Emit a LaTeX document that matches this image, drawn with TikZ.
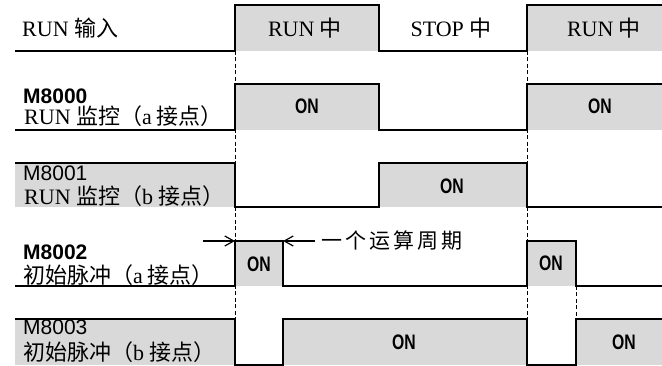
\documentclass[tikz,border=0pt]{standalone}
\usepackage{fontspec}
\setmainfont{Liberation Serif}
\newfontfamily\cjk{Noto Sans CJK SC}
\newfontfamily\helv{Liberation Sans}
\newfontfamily\onf[FakeStretch=0.75]{Liberation Sans}
\usetikzlibrary{arrows.meta}
\tikzset{
  wave/.style={line width=1.4pt, line join=miter},
  hi/.style={fill=black!15, draw=none},
  guide/.style={line width=0.9pt, dash pattern=on 4pt off 2.5pt},
  lbl/.style={anchor=west, inner sep=0pt, text height=16pt, text depth=4pt, font=\fontsize{22}{24}\selectfont},
  code/.style={anchor=west, inner sep=0pt, text height=15pt, text depth=0pt, font=\helv\fontsize{21}{23}\selectfont},
  codeb/.style={code, font=\helv\bfseries\fontsize{21}{23}\selectfont},
  ontext/.style={inner sep=0pt, font=\onf\bfseries\fontsize{21}{23}\selectfont},
  state/.style={inner sep=0pt, font=\fontsize{22}{24}\selectfont},
  period/.style={-{Straight Barb[length=9pt,width=10pt,line width=1.2pt]}, line width=1.2pt}
}
\begin{document}
\begin{tikzpicture}[x=1pt,y=-1pt]
\useasboundingbox (0,0) rectangle (662,366);
% shaded high levels
\fill[hi] (235,5) rectangle (379,51);
\fill[hi] (527,5) rectangle (662,51);
\fill[hi] (235,84) rectangle (379,130);
\fill[hi] (527,84) rectangle (662,130);
\fill[hi] (15,163) rectangle (235,207);
\fill[hi] (379,163) rectangle (527,207);
\fill[hi] (235,241) rectangle (283,286);
\fill[hi] (527,241) rectangle (576,286);
\fill[hi] (15,319) rectangle (235,365);
\fill[hi] (283,319) rectangle (527,365);
\fill[hi] (576,319) rectangle (662,365);
% dashed guides
\draw[guide] (235,51) -- (235,319);
\draw[guide] (527,51) -- (527,319);
\draw[guide] (576,286) -- (576,319);
% waveforms
\draw[wave] (15,51) -- (235,51) -- (235,5) -- (379,5) -- (379,51) -- (527,51) -- (527,5) -- (662,5);
\draw[wave] (15,130) -- (235,130) -- (235,84) -- (379,84) -- (379,130) -- (527,130) -- (527,84) -- (662,84);
\draw[wave] (15,163) -- (235,163) -- (235,207) -- (379,207) -- (379,163) -- (527,163) -- (527,207) -- (662,207);
\draw[wave] (15,286) -- (235,286) -- (235,241) -- (283,241) -- (283,286) -- (527,286) -- (527,241) -- (576,241) -- (576,286) -- (662,286);
\draw[wave] (15,319) -- (235,319) -- (235,365) -- (283,365) -- (283,319) -- (527,319) -- (527,365) -- (576,365) -- (576,319) -- (662,319);
% row labels
\node[lbl] (run) at (22,30.4) {RUN {\cjk 输入}};
\node[codeb] (m0) at (23,96) {M8000};
\node[lbl] (m0d) at (24,118.4) {RUN {\cjk 监控（}a{\cjk\ 接点）}};
\node[code] (m1) at (23,173) {M8001};
\node[lbl] (m1d) at (24,198.4) {RUN {\cjk 监控（}b{\cjk\ 接点）}};
\node[codeb] (m2) at (23,252.5) {M8002};
\node[lbl] (m2d) at (23,277.4) {{\cjk 初始脉冲（}a{\cjk\ 接点）}};
\node[code] (m3) at (23,327) {M8003};
\node[lbl] (m3d) at (23,354.4) {{\cjk 初始脉冲（}b{\cjk\ 接点）}};
% states
\node[state] (s1) at (305,28) {RUN {\cjk 中}};
\node[state] (s2) at (451,28) {STOP {\cjk 中}};
\node[state] (s3) at (604,28) {RUN {\cjk 中}};
% ON labels
\node[ontext] (on1) at (307,106) {ON};
\node[ontext] (on2) at (600,106) {ON};
\node[ontext] (on3) at (452,186) {ON};
\node[ontext] (on4) at (259,264) {ON};
\node[ontext] (on5) at (551,263) {ON};
\node[ontext] (on6) at (404,342) {ON};
\node[ontext] (on7) at (624,342) {ON};
% one scan period
\coordinate (a1) at (203,241);
\coordinate (a2) at (235,241);
\coordinate (b1) at (315,241);
\coordinate (b2) at (283,241);
\draw[period] (a1) -- (a2);
\draw[period] (b1) -- (b2);
\node[anchor=west, inner sep=0pt, font=\cjk\fontsize{21}{23}\selectfont] (per) at (321,241) {一\hspace{3pt}个\hspace{3pt}运\hspace{3pt}算\hspace{3pt}周\hspace{3pt}期};
\end{tikzpicture}
\end{document}
